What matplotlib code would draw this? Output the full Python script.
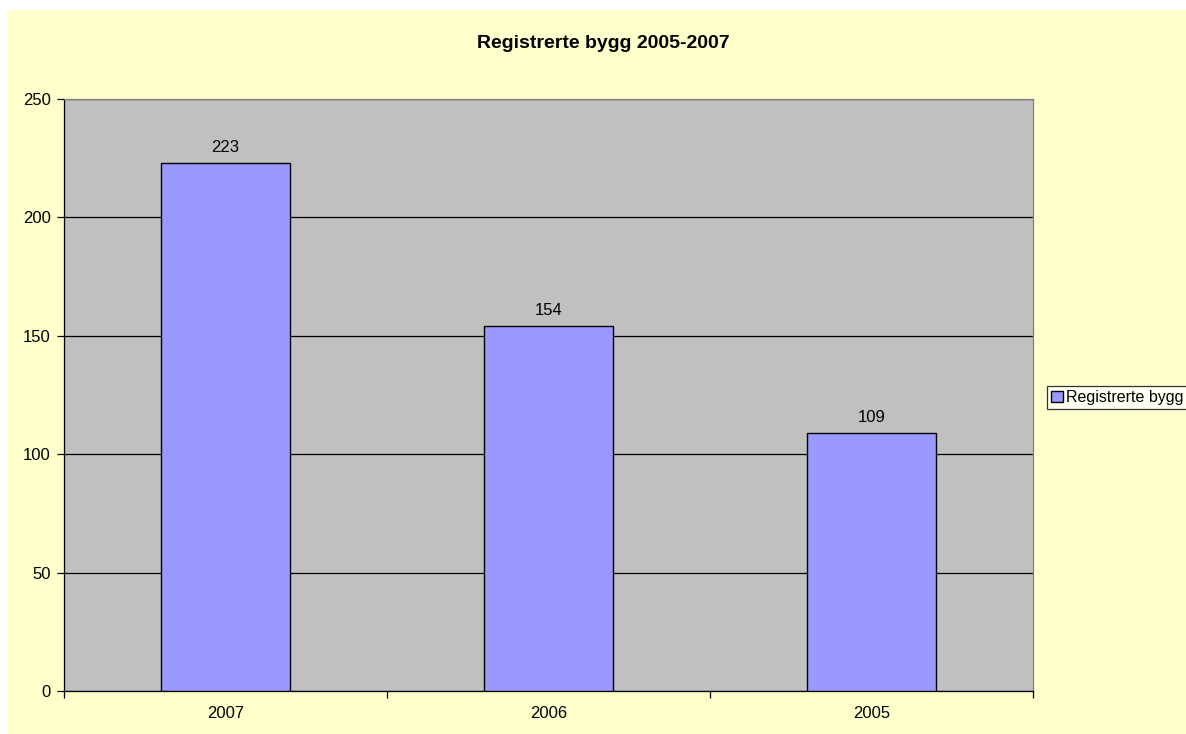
import matplotlib
matplotlib.use("Agg")
import matplotlib.pyplot as plt
from matplotlib.patches import Rectangle

categories = ["2007", "2006", "2005"]
values = [223, 154, 109]
series_name = "Registrerte bygg"
title = "Registrerte bygg 2005-2007"
yticks = [0, 50, 100, 150, 200, 250]

plt.rcParams['font.family'] = ['Liberation Sans', 'DejaVu Sans']

W, H = 1186, 734
fig = plt.figure(figsize=(W/100, H/100), dpi=100)
fig.patch.set_facecolor("white")
# yellow chart area
fig.patches.append(Rectangle((8/W, 0), 1 - 8/W, 1 - 10/H, transform=fig.transFigure,
                             facecolor="#FFFFCC", edgecolor="none", zorder=-10))

ax = fig.add_axes([64/W, 1 - 691/H, (1033-64)/W, (691-99)/H])
ax.set_facecolor("#C0C0C0")
ax.set_xlim(0, 3)
ax.set_ylim(0, 250)
ax.set_yticks(yticks)
ax.set_yticklabels([str(v) for v in yticks], fontsize=12)
ax.yaxis.grid(True, color="black", linewidth=0.9)
ax.set_axisbelow(True)

xs = [i + 0.5 for i in range(len(categories))]
bars = ax.bar(xs, values, width=0.4, color="#9999FF", edgecolor="black", linewidth=1.0,
              label=series_name, zorder=3)
for x, v in zip(xs, values):
    ax.annotate(str(v), (x, v), xytext=(0, 6), textcoords="offset points",
                ha="center", va="bottom", fontsize=12, zorder=4)

ax.set_xticks([0, 1, 2, 3])
ax.set_xticklabels([])
ax.set_xticks(xs, minor=True)
ax.set_xticklabels(categories, minor=True, fontsize=12)
ax.tick_params(axis="x", which="minor", length=0, pad=11)
ax.tick_params(axis="x", which="major", direction="out", length=5, width=0.9)
ax.tick_params(axis="y", direction="out", length=5, width=0.9, pad=4.5)

for s in ["top", "right"]:
    ax.spines[s].set_color("#808080")
    ax.spines[s].set_linewidth(0.9)
for s in ["left", "bottom"]:
    ax.spines[s].set_color("black")
    ax.spines[s].set_linewidth(0.9)

fig.text(603/W, 1 - 48/H, title, ha="center", va="baseline", fontsize=14, fontweight="bold")

leg = fig.legend(handles=[bars], labels=[series_name], loc="center left",
                 bbox_to_anchor=(1047/W, 1 - 397.5/H), fontsize=11.5, frameon=True,
                 fancybox=False, edgecolor="black", handlelength=0.75, handleheight=0.75,
                 handletextpad=0.2, borderpad=0.25, borderaxespad=0)
leg.get_frame().set_facecolor("white")
leg.get_frame().set_linewidth(0.9)

fig.savefig("out.png", dpi=100)
